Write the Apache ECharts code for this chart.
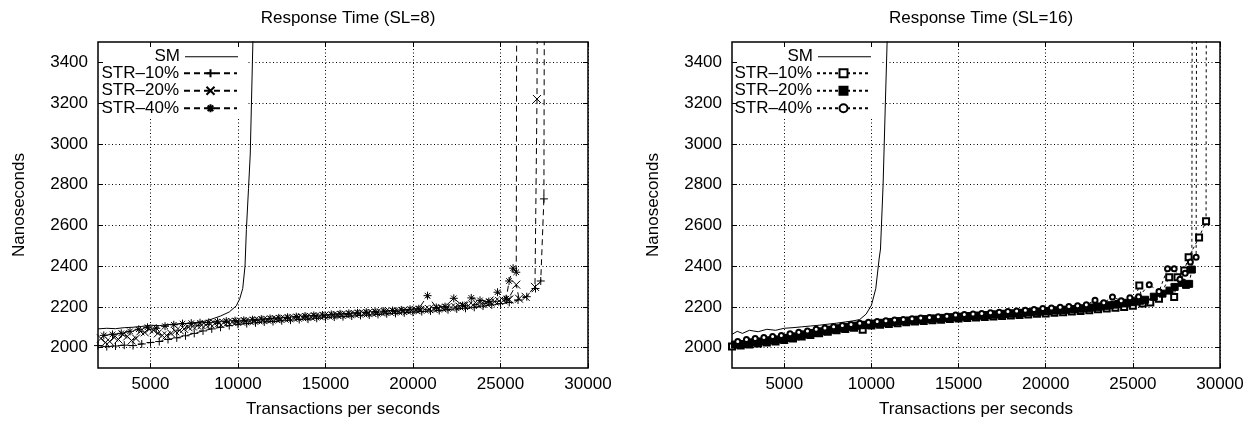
<!DOCTYPE html>
<html>
<head>
<meta charset="utf-8">
<script src="https://cdn.jsdelivr.net/npm/echarts@6/dist/echarts.min.js"></script>
<style>
  html, body { margin: 0; padding: 0; background: #fff; }
  #chart { width: 1259px; height: 425px; }
</style>
</head>
<body>
<div id="chart"></div>
<script>
// tick labels
const xTicks = [5000, 10000, 15000, 20000, 25000, 30000];
const yTicks = [2000, 2200, 2400, 2600, 2800, 3000, 3200, 3400];
const names = ['SM', 'STR–10%', 'STR–20%', 'STR–40%'];

// throughput samples of the STR runs (band part)
const tpsA = [2000, 2500, 3000, 3500, 4000, 4500, 5000, 5500, 6000, 6500,
  7000, 7500, 8000, 8500, 9000, 9500, 10000, 10500, 11000, 11500,
  12000, 12500, 13000, 13500, 14000, 14500, 15000, 15500, 16000, 16500,
  17000, 17500, 18000, 18500, 19000, 19500, 20000, 20500, 21000, 21500,
  22000, 22500, 23000, 23500, 24000, 24500, 25000];
const tpsB = [2170, 2670, 3170, 3670, 4170, 4670, 5170, 5670, 6170, 6670,
  7170, 7670, 8170, 8670, 9170, 9670, 10170, 10670, 11170, 11670,
  12170, 12670, 13170, 13670, 14170, 14670, 15170, 15670, 16170, 16670,
  17170, 17670, 18170, 18670, 19170, 19670, 20170, 20670, 21170, 21670,
  22170, 22670, 23170, 23670, 24170, 24670, 25170];
const tpsC = [2330, 2830, 3330, 3830, 4330, 4830, 5330, 5830, 6330, 6830,
  7330, 7830, 8330, 8830, 9330, 9830, 10330, 10830, 11330, 11830,
  12330, 12830, 13330, 13830, 14330, 14830, 15330, 15830, 16330, 16830,
  17330, 17830, 18330, 18830, 19330, 19830, 20330, 20830, 21330, 21830,
  22330, 22830, 23330, 23830, 24330, 24830, 25330];
const tpsD = [2420, 2920, 3420, 3920, 4420, 4920, 5420, 5920, 6420, 6920,
  7420, 7920, 8420, 8920, 9420, 9920, 10420, 10920, 11420, 11920,
  12420, 12920, 13420, 13920, 14420, 14920, 15420, 15920, 16420, 16920,
  17420, 17920, 18420, 18920, 19420, 19920, 20420, 20920, 21420, 21920,
  22420, 22920, 23420, 23920, 24420, 24920, 25420];

// SL=8
const sm8 = [[2000, 2092], [2500, 2095], [3000, 2093], [3500, 2098], [4000, 2100],
  [4500, 2104], [5000, 2110], [5500, 2108], [6000, 2113], [6500, 2116], [7000, 2118],
  [7500, 2122], [8000, 2128], [8500, 2140], [9000, 2155], [9500, 2175], [9900, 2205],
  [10100, 2240], [10270, 2290], [10400, 2400], [10480, 2580], [10600, 2780],
  [10700, 2950], [10850, 3500], [10950, 3800]];
const str10L8 = [2010, 2005, 2008, 2012, 2010, 2018, 2025, 2030, 2040, 2048,
  2058, 2070, 2082, 2092, 2100, 2108, 2115, 2118, 2122, 2126,
  2128, 2132, 2135, 2138, 2140, 2144, 2147, 2150, 2152, 2155,
  2158, 2160, 2163, 2166, 2168, 2171, 2174, 2177, 2180, 2182,
  2186, 2190, 2193, 2198, 2204, 2210, 2216];
const str10Tail8 = [[25500, 2222], [26000, 2234], [26500, 2250], [27000, 2290],
  [27300, 2327], [27480, 2730], [27540, 5000]];
const str20L8 = [2045, 2030, 2040, 2055, 2045, 2075, 2085, 2060, 2070, 2085,
  2100, 2108, 2112, 2118, 2122, 2126, 2128, 2130, 2134, 2137,
  2140, 2142, 2146, 2149, 2151, 2154, 2157, 2160, 2162, 2165,
  2168, 2170, 2173, 2176, 2178, 2181, 2184, 2187, 2190, 2193,
  2197, 2201, 2206, 2212, 2218, 2226, 2232];
const str20L8b = [2025, 2050, 2065, 2035, 2080, 2090, 2070, 2060, 2080, 2092,
  2104, 2110, 2115, 2120, 2124, 2127, 2129, 2132, 2135, 2138,
  2141, 2144, 2147, 2150, 2153, 2156, 2158, 2161, 2164, 2167,
  2169, 2172, 2175, 2177, 2180, 2183, 2186, 2189, 2192, 2196,
  2199, 2204, 2209, 2215, 2222, 2229, 2235];
const str20Tail8 = [[25500, 2236], [25900, 2309], [26060, 2240], [26440, 2249],
  [26970, 2298], [27085, 3220], [27150, 5000]];
const str40L8 = [2060, 2065, 2070, 2080, 2090, 2100, 2095, 2105, 2112, 2118,
  2120, 2122, 2124, 2127, 2130, 2132, 2134, 2137, 2140, 2143,
  2146, 2149, 2152, 2155, 2158, 2160, 2163, 2166, 2168, 2171,
  2174, 2176, 2179, 2182, 2185, 2188, 2191, 2255, 2197, 2201,
  2242, 2206, 2244, 2232, 2226, 2272, 2240];
const str40Tail8 = [[25490, 2327], [25720, 2390], [25900, 2370], [25950, 5000]];

// SL=16
const sm16 = [[2000, 2065], [2300, 2080], [2600, 2070], [3000, 2085], [3500, 2078],
  [4000, 2090], [4500, 2085], [5000, 2095], [5500, 2098], [6000, 2102], [6500, 2106],
  [7000, 2110], [7500, 2115], [8000, 2120], [8500, 2126], [9000, 2132], [9330, 2138],
  [9700, 2165], [10000, 2208], [10250, 2290], [10440, 2435], [10520, 2484],
  [10670, 2800], [10800, 3200], [10900, 3500], [11000, 3800]];
const str10L16 = [2005, 2010, 2015, 2020, 2025, 2030, 2038, 2045, 2055, 2062,
  2070, 2078, 2085, 2092, 2098, 2088, 2108, 2112, 2116, 2120,
  2124, 2128, 2131, 2134, 2137, 2140, 2143, 2146, 2148, 2150,
  2153, 2155, 2158, 2160, 2163, 2166, 2168, 2171, 2174, 2177,
  2180, 2184, 2188, 2192, 2196, 2200, 2205];
const str10Tail16 = [[25370, 2305], [25560, 2216], [26000, 2222], [26500, 2240],
  [27085, 2346], [27370, 2249], [27560, 2346], [27950, 2379], [28200, 2444],
  [28800, 2541], [29200, 2620], [29230, 5000]];
const str20L16 = [2015, 2018, 2025, 2030, 2035, 2040, 2048, 2055, 2065, 2072,
  2080, 2088, 2095, 2102, 2108, 2112, 2118, 2122, 2126, 2130,
  2133, 2137, 2140, 2143, 2146, 2149, 2152, 2155, 2157, 2160,
  2163, 2166, 2168, 2171, 2174, 2177, 2180, 2183, 2186, 2189,
  2193, 2197, 2202, 2208, 2214, 2220, 2226];
const str20L16b = [2016, 2022, 2028, 2033, 2038, 2044, 2052, 2060, 2068, 2076,
  2084, 2092, 2098, 2105, 2110, 2115, 2120, 2124, 2128, 2131,
  2135, 2138, 2142, 2145, 2148, 2150, 2153, 2156, 2159, 2162,
  2164, 2167, 2170, 2173, 2176, 2179, 2182, 2185, 2188, 2191,
  2195, 2200, 2205, 2211, 2217, 2223, 2230];
const str20Tail16 = [[25700, 2235], [26200, 2250], [26700, 2265], [27100, 2280],
  [27400, 2298], [27800, 2318], [28050, 2308], [28230, 2313], [28385, 2383],
  [28420, 5000]];
const str40L16 = [2030, 2040, 2045, 2050, 2055, 2060, 2068, 2075, 2082, 2090,
  2096, 2102, 2108, 2114, 2120, 2125, 2128, 2132, 2135, 2138,
  2142, 2145, 2148, 2151, 2154, 2160, 2163, 2165, 2168, 2171,
  2174, 2177, 2180, 2183, 2187, 2192, 2195, 2198, 2202, 2206,
  2210, 2232, 2220, 2249, 2230, 2245, 2250];
const str40Tail16 = [[25940, 2309], [26500, 2275], [26990, 2387], [27370, 2387],
  [27700, 2335], [28000, 2365], [28300, 2420], [28630, 2444], [28680, 5000]];

const font = '"Liberation Sans", Arial, Helvetica, sans-serif';
const txt = { fontSize: 17, fontFamily: font, color: '#000' };

const plusSym = 'path://M0,5L10,5M5,0L5,10';
const crossSym = 'path://M1,1L9,9M9,1L1,9';
const starSym = 'path://M0,5L10,5M5,0L5,10M1.5,1.5L8.5,8.5M8.5,1.5L1.5,8.5';

function pairs(xs, ys) {
  return xs.map((x, i) => [x, ys[i]]);
}

function byX(a, b) {
  return a[0] - b[0];
}

const plain = (v) => String(v);

function axesX(g) {
  return [{
    type: 'value', gridIndex: g, min: 2000, max: 30000, position: 'bottom',
    name: 'Transactions per seconds', nameLocation: 'middle', nameGap: 33,
    nameTextStyle: txt,
    axisLine: { show: false },
    axisTick: { inside: true, length: 5, customValues: xTicks, lineStyle: { color: '#000' } },
    axisLabel: Object.assign({ customValues: xTicks, margin: 8, formatter: plain }, txt),
    splitLine: { show: true, lineStyle: { color: '#000', width: 1, type: [1, 2.5] } }
  }, {
    type: 'value', gridIndex: g, min: 2000, max: 30000, position: 'top',
    axisLine: { show: false },
    axisTick: { inside: true, length: 5, customValues: xTicks, lineStyle: { color: '#000' } },
    axisLabel: { show: false },
    splitLine: { show: false }
  }];
}

function axesY(g) {
  return [{
    type: 'value', gridIndex: g, min: 1900, max: 3500, position: 'left',
    name: 'Nanoseconds', nameLocation: 'middle', nameGap: 70,
    nameTextStyle: txt,
    axisLine: { show: false },
    axisTick: { inside: true, length: 5, customValues: yTicks, lineStyle: { color: '#000' } },
    axisLabel: Object.assign({ customValues: yTicks, margin: 10, formatter: plain }, txt),
    splitLine: { show: true, lineStyle: { color: '#000', width: 1, type: [1, 2.5] } }
  }, {
    type: 'value', gridIndex: g, min: 1900, max: 3500, position: 'right',
    axisLine: { show: false },
    axisTick: { inside: true, length: 5, customValues: yTicks, lineStyle: { color: '#000' } },
    axisLabel: { show: false },
    splitLine: { show: false }
  }];
}

function legends(list, right) {
  const tops = [48.2, 64.8, 82.2, 99.8];
  return list.map((n, i) => {
    const lg = {
      data: [n], orient: 'vertical', right: right, top: tops[i], align: 'right',
      padding: 0, itemWidth: 53, itemHeight: 10, selectedMode: false,
      textStyle: txt, formatter: (s) => s.trim()
    };
    if (i === 0) {
      // plain solid line sample for SM
      lg.data = [{ name: n, icon: 'rect' }];
      lg.itemHeight = 1;
    }
    return lg;
  });
}

function strSeries(name, axis, data, symbol, size, dash, fill) {
  return {
    name: name, type: 'line', xAxisIndex: axis, yAxisIndex: axis, data: data,
    symbol: symbol, symbolSize: size, showAllSymbol: true,
    lineStyle: { color: '#000', width: 1, type: dash },
    itemStyle: { color: fill, borderColor: '#000', borderWidth: 1 }
  };
}

const names16 = names.map((n) => n + ' ');
const longDash = [6, 4];
const shortDash = [3, 3];

const str20Data8 = pairs(tpsB, str20L8).concat(pairs(tpsD, str20L8b)).sort(byX).concat(str20Tail8);
const str20Data16 = pairs(tpsB, str20L16).concat(pairs(tpsD, str20L16b)).sort(byX).concat(str20Tail16);

const option = {
  animation: false,
  backgroundColor: '#fff',
  title: [
    { text: 'Response Time (SL=8)', left: 343, top: 5, textAlign: 'center',
      textStyle: Object.assign({ fontWeight: 'normal' }, txt) },
    { text: 'Response Time (SL=16)', left: 976, top: 5, textAlign: 'center',
      textStyle: Object.assign({ fontWeight: 'normal' }, txt) }
  ],
  grid: [
    { left: 98, top: 42, width: 490, height: 326, show: true, borderColor: '#000', borderWidth: 1.5, backgroundColor: 'transparent' },
    { left: 732, top: 42, width: 488, height: 326, show: true, borderColor: '#000', borderWidth: 1.5, backgroundColor: 'transparent' }
  ],
  xAxis: axesX(0).concat(axesX(1)),
  yAxis: axesY(0).concat(axesY(1)),
  legend: legends(names, 1021).concat(legends(names16, 388)),
  graphic: [
    { type: 'rect', z: 1, silent: true, shape: { x: 104, y: 48, width: 144, height: 69 }, style: { fill: '#fff' } },
    { type: 'rect', z: 1, silent: true, shape: { x: 738, y: 48, width: 142, height: 69 }, style: { fill: '#fff' } }
  ],
  series: [
    { name: names[0], type: 'line', xAxisIndex: 0, yAxisIndex: 0, data: sm8, symbol: 'none',
      lineStyle: { color: '#000', width: 1 }, itemStyle: { color: '#000' } },
    strSeries(names[1], 0, pairs(tpsA, str10L8).concat(str10Tail8), plusSym, 8, longDash, 'transparent'),
    strSeries(names[2], 0, str20Data8, crossSym, 8, longDash, 'transparent'),
    strSeries(names[3], 0, pairs(tpsC, str40L8).concat(str40Tail8), starSym, 8, longDash, 'transparent'),

    { name: names16[0], type: 'line', xAxisIndex: 2, yAxisIndex: 2, data: sm16, symbol: 'none',
      lineStyle: { color: '#000', width: 1 }, itemStyle: { color: '#000' } },
    strSeries(names16[1], 2, pairs(tpsA, str10L16).concat(str10Tail16), 'emptyRect', 6, shortDash, '#000'),
    strSeries(names16[2], 2, str20Data16, 'rect', 7, shortDash, '#000'),
    strSeries(names16[3], 2, pairs(tpsC, str40L16).concat(str40Tail16), 'emptyCircle', 5, shortDash, '#000')
  ]
};

const chart = echarts.init(document.getElementById('chart'));
chart.setOption(option);
</script>
</body>
</html>
